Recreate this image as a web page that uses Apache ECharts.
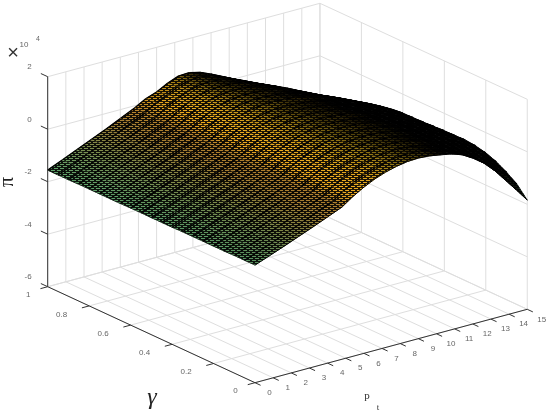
<!DOCTYPE html>
<html>
<head>
<meta charset="utf-8">
<style>
  html, body { margin: 0; padding: 0; background: #fff; }
  #chart { width: 550px; height: 415px; }
</style>
<script src="https://cdn.jsdelivr.net/npm/echarts@6/dist/echarts.min.js"></script>
</head>
<body>
<div id="chart"></div>
<script>
const pTicks = [0, 1, 2, 3, 4, 5, 6, 7, 8, 9, 10, 11, 12, 13, 14, 15]
const gammaTicks = [0, 0.2, 0.4, 0.6, 0.8, 1]
const gammaLabels = ['0', '0.2', '0.4', '0.6', '0.8', '1']
const zTicks = [-6, -4, -2, 0, 2]

const pValues = [0, 0.8, 1.6, 2.4, 3.2, 4, 4.8, 5.4, 6, 6.6, 7.2, 7.8, 8.4, 9, 9.6, 10.2, 10.8, 11.4, 12, 12.6, 13.2, 13.8, 14.4, 15]
const gammaValues = [0, 0.05, 0.1, 0.15, 0.2, 0.25, 0.3, 0.35, 0.4, 0.45, 0.5, 0.55, 0.6, 0.65, 0.7, 0.75, 0.8, 0.85, 0.9, 0.95, 1]

// pi in units of 10^4, one row per gamma value
const surfaceZ = [
  [-1.52, -1.31, -1.10, -.88, -.66, -.43, -.20, .09, .33, .53, .68, .79, .86, .88, .85, .78, .70, .56, .32, .02, -.38, -.86, -1.34, -1.84],
  [-1.52, -1.31, -1.10, -.88, -.66, -.42, -.19, .09, .33, .52, .67, .78, .85, .87, .85, .78, .67, .51, .30, .05, -.25, -.58, -.97, -1.41],
  [-1.52, -1.31, -1.10, -.88, -.65, -.42, -.19, .09, .33, .53, .68, .78, .84, .86, .83, .77, .67, .52, .34, .12, -.13, -.43, -.77, -1.14],
  [-1.53, -1.31, -1.10, -.87, -.65, -.41, -.18, .10, .33, .53, .67, .78, .84, .85, .83, .77, .68, .55, .39, .20, -.03, -.29, -.59, -.92],
  [-1.53, -1.31, -1.10, -.87, -.65, -.41, -.17, .11, .35, .54, .68, .78, .83, .84, .81, .76, .67, .56, .41, .23, .03, -.21, -.47, -.77],
  [-1.53, -1.31, -1.09, -.87, -.65, -.41, -.17, .11, .34, .53, .67, .77, .82, .83, .80, .75, .67, .56, .43, .26, .07, -.15, -.40, -.68],
  [-1.53, -1.31, -1.09, -.87, -.64, -.40, -.16, .12, .35, .54, .68, .77, .81, .82, .79, .74, .66, .55, .42, .26, .07, -.14, -.38, -.64],
  [-1.53, -1.31, -1.09, -.87, -.64, -.40, -.16, .12, .34, .53, .67, .76, .80, .81, .78, .73, .65, .54, .41, .25, .06, -.15, -.39, -.65],
  [-1.54, -1.31, -1.09, -.86, -.64, -.39, -.15, .13, .36, .54, .67, .76, .80, .79, .76, .71, .63, .52, .39, .23, .05, -.16, -.40, -.66],
  [-1.54, -1.31, -1.09, -.86, -.63, -.39, -.14, .13, .36, .53, .66, .75, .79, .78, .75, .70, .62, .51, .38, .22, .03, -.18, -.42, -.68],
  [-1.54, -1.31, -1.09, -.86, -.63, -.39, -.14, .13, .36, .54, .67, .75, .78, .77, .74, .68, .59, .49, .35, .19, .01, -.20, -.44, -.70],
  [-1.54, -1.31, -1.09, -.86, -.63, -.38, -.13, .15, .37, .55, .67, .75, .77, .76, .72, .66, .57, .46, .33, .17, -.01, -.22, -.45, -.71],
  [-1.54, -1.31, -1.09, -.85, -.62, -.37, -.12, .16, .38, .55, .67, .74, .76, .74, .70, .64, .55, .44, .31, .15, -.03, -.24, -.47, -.72],
  [-1.55, -1.32, -1.09, -.85, -.62, -.37, -.12, .16, .39, .56, .68, .75, .76, .74, .70, .63, .54, .41, .24, .05, -.14, -.34, -.55, -.79],
  [-1.55, -1.32, -1.09, -.85, -.62, -.36, -.11, .17, .40, .57, .69, .74, .74, .72, .67, .59, .46, .29, .12, -.07, -.26, -.45, -.65, -.87],
  [-1.55, -1.32, -1.09, -.85, -.62, -.36, -.11, .18, .41, .58, .69, .74, .73, .70, .65, .54, .37, .17, -.01, -.19, -.37, -.56, -.75, -.95],
  [-1.55, -1.31, -1.08, -.84, -.61, -.35, -.10, .19, .42, .59, .70, .74, .72, .68, .60, .47, .26, .05, -.14, -.32, -.49, -.66, -.85, -1.04],
  [-1.55, -1.31, -1.08, -.84, -.61, -.35, -.10, .20, .43, .60, .70, .73, .71, .66, .52, .35, .15, -.04, -.24, -.44, -.61, -.79, -.97, -1.16],
  [-1.56, -1.32, -1.08, -.84, -.61, -.35, -.09, .20, .41, .59, .70, .72, .69, .60, .42, .23, .05, -.12, -.33, -.55, -.73, -.91, -1.09, -1.27],
  [-1.56, -1.32, -1.08, -.84, -.60, -.34, -.09, .18, .37, .57, .69, .71, .65, .51, .32, .12, -.06, -.24, -.44, -.63, -.81, -1.00, -1.19, -1.38],
  [-1.56, -1.32, -1.08, -.84, -.60, -.34, -.08, .15, .30, .52, .68, .70, .60, .42, .22, .02, -.16, -.36, -.54, -.72, -.90, -1.10, -1.30, -1.50]
]

// fixed MATLAB style view, no perspective
function project(p, g, z) {
  return [
    255 + p * 18.15 - g * 207.3,
    382.7 - p * 4.893 - g * 96 - (z + 6) * 26.25
  ]
}

const P_MAX = pTicks[pTicks.length - 1]
const Z_MIN = zTicks[0]
const Z_MAX = zTicks[zTicks.length - 1]

// wall and floor grid
const gridSegments = []
pTicks.forEach(p => {
  gridSegments.push([p, 0, Z_MIN, p, 1, Z_MIN])
  gridSegments.push([p, 1, Z_MIN, p, 1, Z_MAX])
})
gammaTicks.forEach(g => {
  gridSegments.push([0, g, Z_MIN, P_MAX, g, Z_MIN])
  gridSegments.push([P_MAX, g, Z_MIN, P_MAX, g, Z_MAX])
})
zTicks.forEach(z => {
  gridSegments.push([0, 1, z, P_MAX, 1, z])
  gridSegments.push([P_MAX, 0, z, P_MAX, 1, z])
})

// back to front so the nearer cells cover the far ones
const cells = []
for (let j = gammaValues.length - 2; j >= 0; j--) {
  for (let i = pValues.length - 2; i >= 0; i--) {
    cells.push([i, j])
  }
}

const colorStops = [
  [-1.6, [92, 165, 110]],
  [-1.2, [112, 150, 90]],
  [-0.8, [135, 135, 68]],
  [-0.4, [165, 125, 50]],
  [-0.1, [178, 128, 44]],
  [0.02, [238, 168, 32]],
  [0.5, [232, 172, 30]],
  [0.9, [218, 180, 30]]
]

function colormap(z) {
  if (z <= colorStops[0][0]) return colorStops[0][1]
  for (let k = 1; k < colorStops.length; k++) {
    if (z <= colorStops[k][0]) {
      const t = (z - colorStops[k - 1][0]) / (colorStops[k][0] - colorStops[k - 1][0])
      return colorStops[k][1].map((c, n) => c + (colorStops[k - 1][1][n] - c) * (1 - t))
    }
  }
  return colorStops[colorStops.length - 1][1]
}

// the dense mesh of the original, as a small see through tile
const meshCanvas = document.createElement('canvas')
meshCanvas.width = 6
meshCanvas.height = 4
const meshCtx = meshCanvas.getContext('2d')
meshCtx.fillStyle = 'rgba(0,0,0,0.88)'
meshCtx.fillRect(0, 0, 6, 4)
meshCtx.clearRect(0, 0, 4, 1)
meshCtx.clearRect(3, 2, 3, 1)
meshCtx.clearRect(0, 2, 1, 1)
const meshTile = { image: meshCanvas, repeat: 'repeat' }

// cells seen edge on collect the mesh lines and go black
function cellLit(i, j) {
  const a = project(pValues[i], gammaValues[j], surfaceZ[j][i])
  const b = project(pValues[i + 1], gammaValues[j], surfaceZ[j][i + 1])
  const c = project(pValues[i + 1], gammaValues[j + 1], surfaceZ[j + 1][i + 1])
  const d = project(pValues[i], gammaValues[j + 1], surfaceZ[j + 1][i])
  const cross = Math.abs((c[0] - a[0]) * (d[1] - b[1]) - (c[1] - a[1]) * (d[0] - b[0])) / 2
  const area = cross / ((pValues[i + 1] - pValues[i]) * (gammaValues[j + 1] - gammaValues[j]))
  return Math.min(1, Math.max(0, (area - 1800) / 2600))
}

function nodeColor(i, j) {
  const last = pValues.length - 2
  const lit = (cellLit(Math.max(i - 1, 0), j) + cellLit(Math.min(i, last), j)) / 2
  const rgb = colormap((surfaceZ[j][i] + surfaceZ[j + 1][i]) / 2)
  return `rgb(${rgb.map(v => Math.round(v * lit)).join(',')})`
}

function renderSurfaceCell(params, api) {
  const i = api.value(0)
  const j = api.value(1)
  const a = api.coord(project(pValues[i], gammaValues[j], surfaceZ[j][i]))
  const b = api.coord(project(pValues[i + 1], gammaValues[j], surfaceZ[j][i + 1]))
  const c = api.coord(project(pValues[i + 1], gammaValues[j + 1], surfaceZ[j + 1][i + 1]))
  const d = api.coord(project(pValues[i], gammaValues[j + 1], surfaceZ[j + 1][i]))
  const pts = [a, b, c, d]

  // shade runs across the cell, square to its constant p edge
  const ex = d[0] - a[0]
  const ey = d[1] - a[1]
  const len = Math.hypot(ex, ey) || 1
  const nx = -ey / len
  const ny = ex / len
  const dist = (b[0] - a[0]) * nx + (b[1] - a[1]) * ny
  const shade = {
    type: 'linear',
    global: true,
    x: a[0],
    y: a[1],
    x2: a[0] + nx * dist,
    y2: a[1] + ny * dist,
    colorStops: [
      { offset: 0, color: nodeColor(i, j) },
      { offset: 1, color: nodeColor(i + 1, j) }
    ]
  }

  const children = [{
    type: 'polygon',
    shape: { points: pts },
    style: { fill: shade, stroke: shade, lineWidth: 0.7 }
  }, {
    type: 'polygon',
    shape: { points: pts },
    style: { fill: meshTile, stroke: meshTile, lineWidth: 0.4 }
  }, {
    type: 'line',
    shape: { x1: d[0], y1: d[1], x2: c[0], y2: c[1] },
    style: { stroke: '#000', lineWidth: 1.3 }
  }]
  if (j === 0) {
    children.push({
      type: 'line',
      shape: { x1: a[0], y1: a[1], x2: b[0], y2: b[1] },
      style: { stroke: '#000', lineWidth: 0.9 }
    })
  }
  if (i === 0) {
    children.push({
      type: 'line',
      shape: { x1: a[0], y1: a[1], x2: d[0], y2: d[1] },
      style: { stroke: '#111', lineWidth: 0.6 }
    })
  }
  return { type: 'group', children }
}

function renderSegment(color, width) {
  return (params, api) => {
    const s = project(api.value(0), api.value(1), api.value(2))
    const e = project(api.value(3), api.value(4), api.value(5))
    const ps = api.coord(s)
    const pe = api.coord(e)
    return {
      type: 'line',
      shape: { x1: ps[0], y1: ps[1], x2: pe[0], y2: pe[1] },
      style: { stroke: color, lineWidth: width }
    }
  }
}

// axis lines and ticks, ticks run along the neighbouring axis direction
const axisSegments = [
  [0, 1, Z_MIN, 0, 1, Z_MAX],
  [0, 0, Z_MIN, 0, 1, Z_MIN],
  [0, 0, Z_MIN, P_MAX, 0, Z_MIN]
]
pTicks.forEach(p => axisSegments.push([p, 0, Z_MIN, p, -0.027, Z_MIN]))
gammaTicks.forEach(g => axisSegments.push([0, g, Z_MIN, -0.4, g, Z_MIN]))
zTicks.forEach(z => axisSegments.push([0, 1, z, 0, 1.033, z]))

const labelFont = { fontFamily: 'Liberation Sans, Arial', fontSize: 8, fill: '#666' }

const tickTexts = []
pTicks.forEach(p => tickTexts.push([p, 0, Z_MIN, String(p), 14.5, 10, 'center']))
gammaTicks.forEach((g, n) => {
  const label = gammaLabels[n]
  tickTexts.push([0, g, Z_MIN, label, label.length > 1 ? -27.5 : -19.5, 8.5, 'center'])
})
zTicks.forEach(z => tickTexts.push([0, 1, z, String(z), -16, -9.5, 'right']))

function renderTickText(params, api) {
  const pos = api.coord(project(api.value(0), api.value(1), api.value(2)))
  return {
    type: 'text',
    x: pos[0] + api.value(4),
    y: pos[1] + api.value(5),
    style: Object.assign({
      text: api.value(3),
      align: api.value(6),
      verticalAlign: 'middle'
    }, labelFont)
  }
}

const chart = echarts.init(document.getElementById('chart'), null, { renderer: 'canvas' })

chart.setOption({
  animation: false,
  backgroundColor: '#fff',
  tooltip: { show: false },
  grid: { left: 0, right: 0, top: 0, bottom: 0 },
  xAxis: { type: 'value', min: 0, max: 550, show: false },
  yAxis: { type: 'value', min: 0, max: 415, inverse: true, show: false },
  series: [
    {
      type: 'custom',
      coordinateSystem: 'cartesian2d',
      silent: true,
      z: 1,
      clip: false,
      data: gridSegments,
      encode: { x: 0, y: 1 },
      renderItem: renderSegment('#dedede', 1)
    },
    {
      type: 'custom',
      coordinateSystem: 'cartesian2d',
      silent: true,
      z: 2,
      clip: false,
      progressive: 0,
      data: cells,
      encode: { x: 0, y: 1 },
      renderItem: renderSurfaceCell
    },
    {
      type: 'custom',
      coordinateSystem: 'cartesian2d',
      silent: true,
      z: 3,
      clip: false,
      data: axisSegments,
      encode: { x: 0, y: 1 },
      renderItem: renderSegment('#333', 1)
    },
    {
      type: 'custom',
      coordinateSystem: 'cartesian2d',
      silent: true,
      z: 4,
      clip: false,
      dimensions: ['p', 'g', 'z', { name: 'label', type: 'ordinal' }, 'dx', 'dy', { name: 'align', type: 'ordinal' }],
      data: tickTexts,
      encode: { x: 0, y: 1 },
      renderItem: renderTickText
    }
  ],
  graphic: [
    { type: 'text', x: 13, y: 53, style: { text: '×', font: '20px "Liberation Sans"', fill: '#333', align: 'center', verticalAlign: 'middle' } },
    { type: 'text', x: 24, y: 45, style: { text: '10', font: '8px "Liberation Sans"', fill: '#666', align: 'center', verticalAlign: 'middle' } },
    { type: 'text', x: 38, y: 39.5, style: { text: '4', font: '7px "Liberation Sans"', fill: '#666', align: 'center', verticalAlign: 'middle' } },
    { type: 'text', x: 8, y: 182, rotation: Math.PI / 2, style: { text: 'π', font: '20px "Liberation Serif"', fill: '#222', align: 'center', verticalAlign: 'middle' } },
    { type: 'text', x: 152, y: 398, style: { text: 'γ', font: 'italic 24px "Liberation Serif"', fill: '#222', align: 'center', verticalAlign: 'middle' } },
    { type: 'text', x: 367, y: 396, style: { text: 'p', font: '11px "Liberation Serif"', fill: '#333', align: 'center', verticalAlign: 'middle' } },
    { type: 'text', x: 378, y: 408, style: { text: 't', font: '9px "Liberation Serif"', fill: '#333', align: 'center', verticalAlign: 'middle' } }
  ]
})
</script>
</body>
</html>
